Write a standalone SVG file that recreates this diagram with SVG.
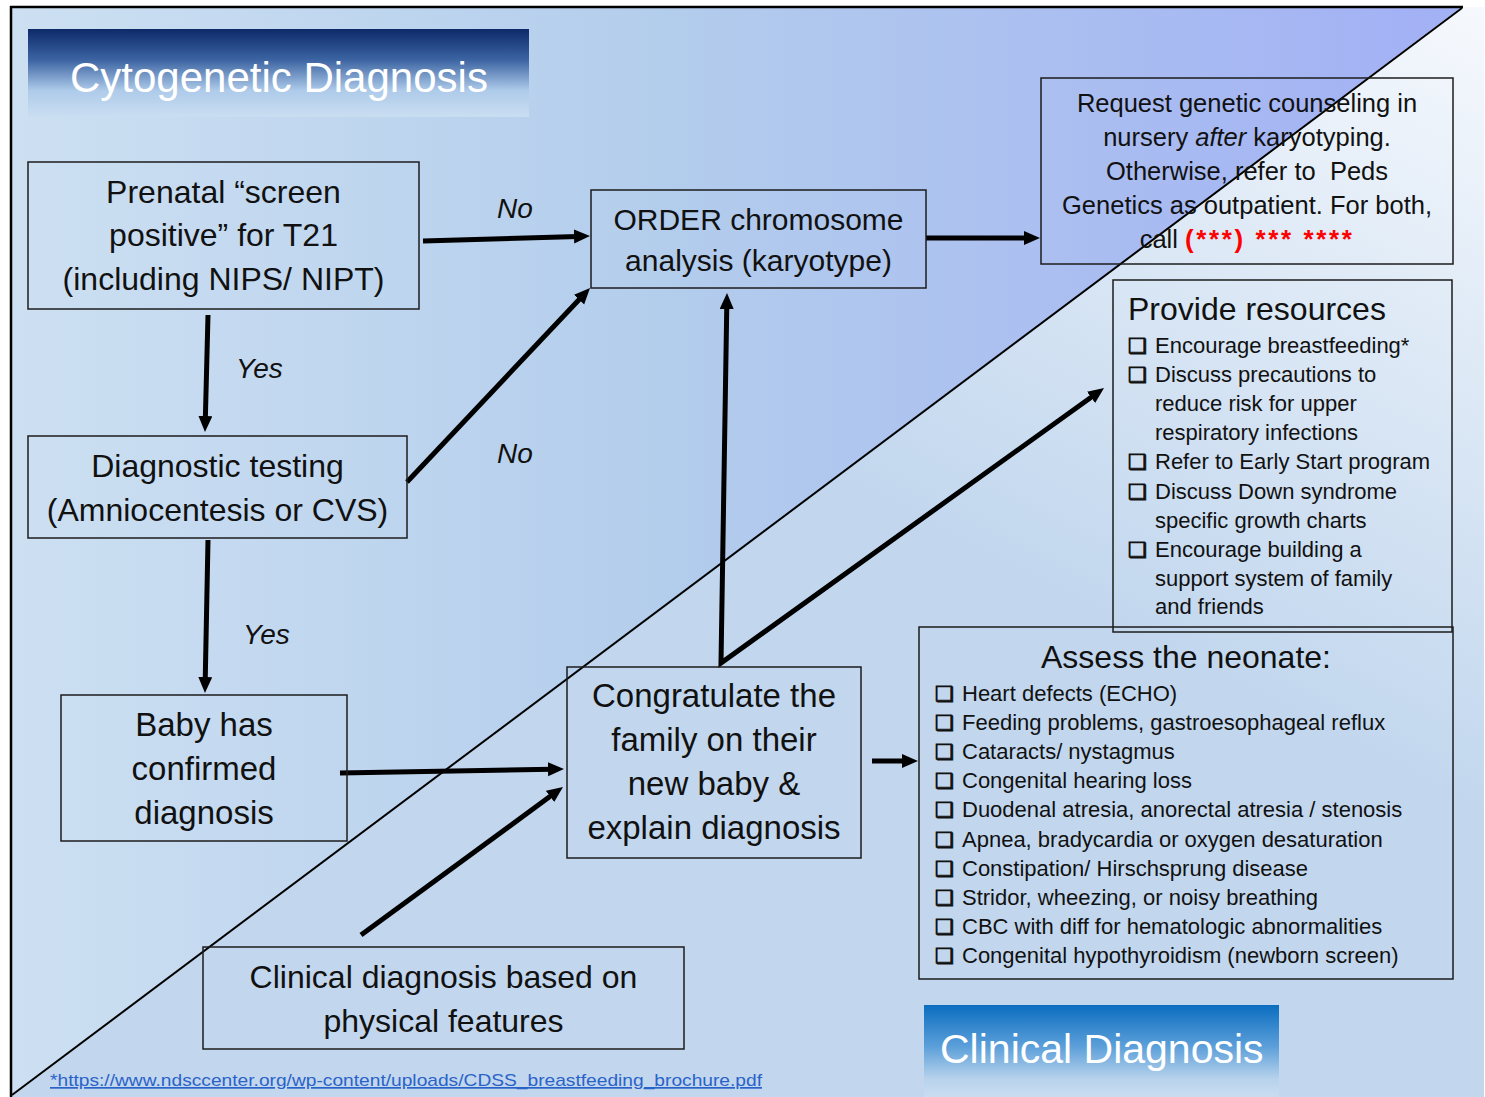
<svg xmlns="http://www.w3.org/2000/svg" width="1485" height="1097" viewBox="0 0 1485 1097">
<defs>
<linearGradient id="gUpper" gradientUnits="userSpaceOnUse" x1="11" y1="0" x2="1462" y2="0">
<stop offset="0" stop-color="#cde0f2"/>
<stop offset="0.45" stop-color="#b3cdec"/>
<stop offset="1" stop-color="#a2b0f5"/>
</linearGradient>
<linearGradient id="gLower" gradientUnits="userSpaceOnUse" x1="1480" y1="0" x2="1150" y2="640">
<stop offset="0" stop-color="#f6f9fd"/>
<stop offset="1" stop-color="#c2d7ee"/>
</linearGradient>
<linearGradient id="gTitle1" x1="0" y1="0" x2="0" y2="1">
<stop offset="0" stop-color="#0d2968"/>
<stop offset="0.35" stop-color="#3c64a2"/>
<stop offset="0.7" stop-color="#aecbea"/>
<stop offset="1" stop-color="#cadef1"/>
</linearGradient>
<linearGradient id="gTitle2" x1="0" y1="0" x2="0" y2="1">
<stop offset="0" stop-color="#0b6dc0"/>
<stop offset="0.45" stop-color="#5b9fd9"/>
<stop offset="0.8" stop-color="#b7d2ec"/>
<stop offset="1" stop-color="#c9ddf1"/>
</linearGradient>
<marker id="ah" markerUnits="userSpaceOnUse" markerWidth="18" markerHeight="16" refX="4" refY="7" orient="auto-start-reverse">
<path d="M0,0 L16,7 L0,14 Z" fill="#000"/>
</marker>
</defs>
<style>
.box{fill:none;stroke:#1c1c1c;stroke-width:1.5}
.t{font-family:"Liberation Sans",Arial,sans-serif;fill:#111}
.c{text-anchor:middle}
.s32{font-size:32px}
.s33{font-size:33px}
.s30{font-size:30px}
.s25{font-size:25.5px}
.lbl{font-size:28px;font-style:italic}
.item{font-size:22px}
.cb{font-family:"DejaVu Sans",sans-serif;font-size:21px;font-weight:bold;fill:#111;stroke:#111;stroke-width:0.9}
.arrow{fill:none;stroke:#000;stroke-width:5;marker-end:url(#ah)}
.ttl{font-family:"Liberation Sans",Arial,sans-serif;fill:#fff}
</style>

<rect x="0" y="0" width="1485" height="1097" fill="#ffffff"/>
<polygon points="11,7 1462,7 12,1096 11,1096" fill="url(#gUpper)"/>
<polygon points="1462,7 1484,7 1484,1097 11,1097 12,1096" fill="url(#gLower)"/>
<line x1="11" y1="6" x2="11" y2="1097" stroke="#000" stroke-width="2.5"/>
<line x1="10" y1="7" x2="1463" y2="7" stroke="#000" stroke-width="2.5"/>
<line x1="12" y1="1095" x2="1462" y2="8" stroke="#000" stroke-width="2"/>

<g id="title-cytogenetic">
<rect x="28" y="29" width="501" height="88" fill="url(#gTitle1)"/>
<text class="ttl" x="70" y="92" font-size="42">Cytogenetic Diagnosis</text>
</g>

<g id="title-clinical">
<rect x="924" y="1005" width="355" height="92" fill="url(#gTitle2)"/>
<text class="ttl" x="940" y="1063" font-size="41">Clinical Diagnosis</text>
</g>

<g id="connectors">
<line class="arrow" x1="423" y1="241" x2="578" y2="236.4"/>
<line class="arrow" x1="208" y1="315" x2="205.3" y2="420"/>
<line class="arrow" x1="407" y1="482" x2="581.8" y2="296.7"/>
<line class="arrow" x1="208" y1="540" x2="205.2" y2="681"/>
<line class="arrow" x1="926" y1="238" x2="1028" y2="238"/>
<line class="arrow" x1="340" y1="773" x2="552" y2="769.2"/>
<line class="arrow" x1="361" y1="935" x2="553.3" y2="794.1"/>
<path class="arrow" d="M726.8,305 L721,663 L1094.3,395" marker-start="url(#ah)" stroke-linejoin="miter"/>
<line class="arrow" x1="872" y1="761" x2="906" y2="761"/>
<text class="t lbl" x="497" y="218">No</text>
<text class="t lbl" x="497" y="463">No</text>
<text class="t lbl" x="236" y="378">Yes</text>
<text class="t lbl" x="243" y="644">Yes</text>
</g>

<g id="node-prenatal">
<rect class="box" x="28" y="162" width="391" height="147"/>
<text class="t c s32" x="223.5" y="203">Prenatal “screen</text>
<text class="t c s32" x="223.5" y="246">positive” for T21</text>
<text class="t c s32" x="223.5" y="290">(including NIPS/ NIPT)</text>
</g>

<g id="node-diagnostic">
<rect class="box" x="28" y="436" width="379" height="102"/>
<text class="t c s32" x="217.5" y="477">Diagnostic testing</text>
<text class="t c s32" x="217.5" y="521">(Amniocentesis or CVS)</text>
</g>

<g id="node-baby">
<rect class="box" x="61" y="695" width="286" height="146"/>
<text class="t c s33" x="204" y="736">Baby has</text>
<text class="t c s33" x="204" y="780">confirmed</text>
<text class="t c s33" x="204" y="824">diagnosis</text>
</g>

<g id="node-order">
<rect class="box" x="591" y="190" width="335" height="98"/>
<text class="t c s30" x="758.5" y="230">ORDER chromosome</text>
<text class="t c s30" x="758.5" y="271">analysis (karyotype)</text>
</g>

<g id="node-request">
<rect class="box" x="1041" y="78" width="412" height="186"/>
<text class="t c s25" x="1247" y="112">Request genetic counseling in</text>
<text class="t c s25" x="1247" y="146">nursery <tspan font-style="italic">after</tspan> karyotyping.</text>
<text class="t c s25" x="1247" y="180" xml:space="preserve">Otherwise, refer to  Peds</text>
<text class="t c s25" x="1247" y="214">Genetics as outpatient. For both,</text>
<text class="t c s25" x="1247" y="248">call <tspan fill="#ff0000" font-weight="bold" font-size="26" letter-spacing="2.6">(***) *** ****</tspan></text>
</g>

<g id="node-congratulate">
<rect class="box" x="567" y="667" width="294" height="191"/>
<text class="t c s33" x="714" y="707">Congratulate the</text>
<text class="t c s33" x="714" y="751">family on their</text>
<text class="t c s33" x="714" y="795">new baby &amp;</text>
<text class="t c s33" x="714" y="839">explain diagnosis</text>
</g>

<g id="node-clinical">
<rect class="box" x="203" y="947" width="481" height="102"/>
<text class="t c s32" x="443.5" y="988">Clinical diagnosis based on</text>
<text class="t c s32" x="443.5" y="1032">physical features</text>
</g>

<g id="node-resources">
<rect class="box" x="1113" y="280" width="339" height="352"/>
<text class="t s32" x="1128" y="320">Provide resources</text>
<text class="cb" x="1128" y="353">❑</text><text class="t item" x="1155" y="353">Encourage breastfeeding*</text>
<text class="cb" x="1128" y="382">❑</text><text class="t item" x="1155" y="382">Discuss precautions to</text>
<text class="t item" x="1155" y="411">reduce risk for upper</text>
<text class="t item" x="1155" y="440">respiratory infections</text>
<text class="cb" x="1128" y="469">❑</text><text class="t item" x="1155" y="469">Refer to Early Start program</text>
<text class="cb" x="1128" y="499">❑</text><text class="t item" x="1155" y="499">Discuss Down syndrome</text>
<text class="t item" x="1155" y="528">specific growth charts</text>
<text class="cb" x="1128" y="557">❑</text><text class="t item" x="1155" y="557">Encourage building a</text>
<text class="t item" x="1155" y="586">support system of family</text>
<text class="t item" x="1155" y="614">and friends</text>
</g>

<g id="node-assess">
<rect class="box" x="919" y="627" width="534" height="352"/>
<text class="t c s32" x="1186" y="668">Assess the neonate:</text>
<text class="cb" x="935" y="701">❑</text><text class="t item" x="962" y="701">Heart defects (ECHO)</text>
<text class="cb" x="935" y="730">❑</text><text class="t item" x="962" y="730">Feeding problems, gastroesophageal reflux</text>
<text class="cb" x="935" y="759">❑</text><text class="t item" x="962" y="759">Cataracts/ nystagmus</text>
<text class="cb" x="935" y="788">❑</text><text class="t item" x="962" y="788">Congenital hearing loss</text>
<text class="cb" x="935" y="817">❑</text><text class="t item" x="962" y="817">Duodenal atresia, anorectal atresia / stenosis</text>
<text class="cb" x="935" y="847">❑</text><text class="t item" x="962" y="847">Apnea, bradycardia or oxygen desaturation</text>
<text class="cb" x="935" y="876">❑</text><text class="t item" x="962" y="876">Constipation/ Hirschsprung disease</text>
<text class="cb" x="935" y="905">❑</text><text class="t item" x="962" y="905">Stridor, wheezing, or noisy breathing</text>
<text class="cb" x="935" y="934">❑</text><text class="t item" x="962" y="934">CBC with diff for hematologic abnormalities</text>
<text class="cb" x="935" y="963">❑</text><text class="t item" x="962" y="963">Congenital hypothyroidism (newborn screen)</text>
</g>

<g id="footnote">
<text x="50" y="1086" font-family="Liberation Sans, Arial, sans-serif" font-size="17" fill="#2a63c8" text-decoration="underline" textLength="712" lengthAdjust="spacingAndGlyphs">*https://www.ndsccenter.org/wp-content/uploads/CDSS_breastfeeding_brochure.pdf</text>
</g>
</svg>
